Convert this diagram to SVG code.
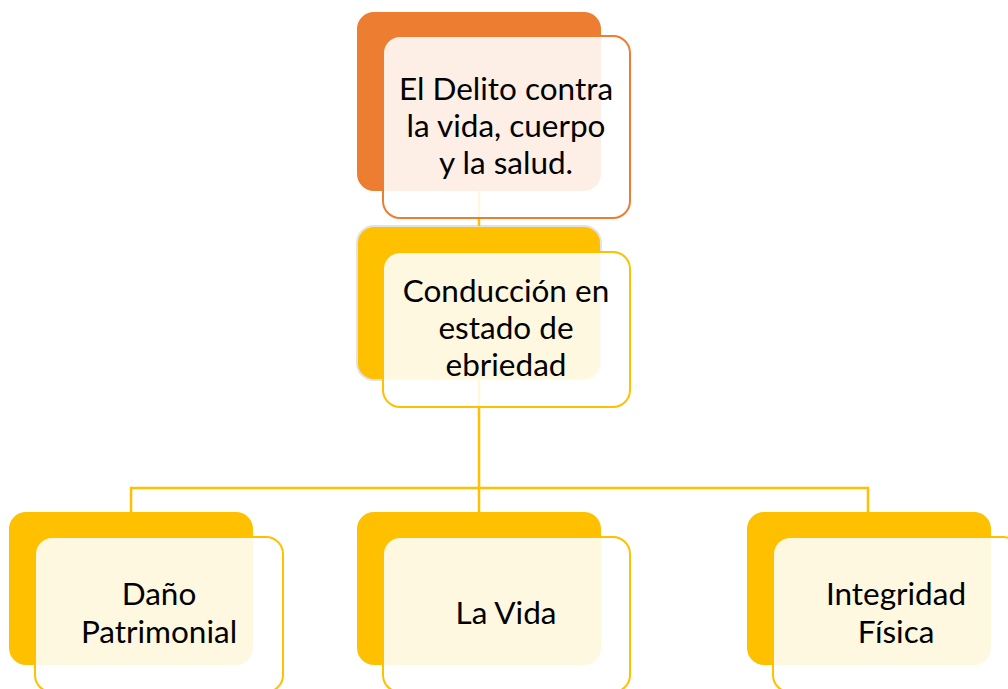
<svg xmlns="http://www.w3.org/2000/svg" width="1008" height="689" viewBox="0 0 1008 689">
<style>
.bo{fill:#ED7D31}
.by{fill:#FFC000}
.fo{fill:#fff;fill-opacity:0.88;stroke:#ED7D31;stroke-width:2}
.fy{fill:#fff;fill-opacity:0.88;stroke:#FFC000;stroke-width:2}
.t{font-family:Lato,"Open Sans",sans-serif;font-size:31.5px;fill:#000;text-anchor:middle}
.c{fill:none;stroke:#FFC000;stroke-width:2.5}
</style>
<rect width="1008" height="689" fill="#fff"/>
<g id="backs">
<rect class="bo" x="357" y="12" width="244" height="179" rx="17"/>
<rect class="by" x="357" y="226" width="244" height="154" rx="17" stroke="#e2e2e2" stroke-width="2"/>
<rect class="by" x="9" y="512" width="244" height="153" rx="17"/>
<rect class="by" x="357" y="512" width="244" height="153" rx="17"/>
<rect class="by" x="747" y="512" width="244" height="153" rx="17"/>
</g>
<g id="connectors">
<path class="c" d="M479 191V226"/>
<path class="c" d="M479 380V488M131 512V488H868V512"/>
<path class="c" d="M479 488V512"/>
</g>
<g id="n1">
<rect class="fo" x="383" y="36" width="247" height="182" rx="17"/>
<text class="t" x="506" y="100">El Delito contra</text>
<text class="t" x="506" y="137">la vida, cuerpo</text>
<text class="t" x="506" y="174">y la salud.</text>
</g>
<g id="n2">
<rect class="fy" x="383" y="252" width="247" height="155" rx="17"/>
<text class="t" x="506" y="302">Conducción en</text>
<text class="t" x="506" y="339">estado de</text>
<text class="t" x="506" y="376">ebriedad</text>
</g>
<g id="n3">
<rect class="fy" x="35" y="537" width="248" height="155" rx="17"/>
<text class="t" x="159" y="605">Daño</text>
<text class="t" x="159" y="643">Patrimonial</text>
</g>
<g id="n4">
<rect class="fy" x="383" y="537" width="247" height="155" rx="17"/>
<text class="t" x="506" y="624">La Vida</text>
</g>
<g id="n5">
<rect class="fy" x="773" y="537" width="247" height="155" rx="17"/>
<text class="t" x="896" y="605">Integridad</text>
<text class="t" x="896" y="643">Física</text>
</g>
</svg>
